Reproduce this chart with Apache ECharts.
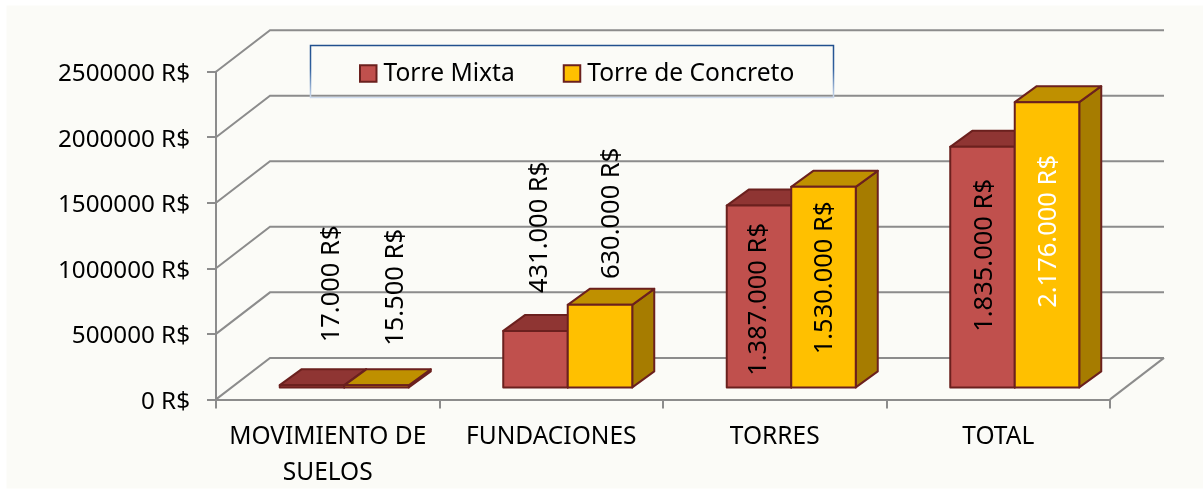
<!DOCTYPE html>
<html><head><meta charset="utf-8">
<style>html,body{margin:0;padding:0;background:#fff}#c{width:1203px;height:489px}</style>
<script src="https://cdn.jsdelivr.net/npm/echarts@6/dist/echarts.min.js"></script>
</head><body><div id="c"></div>
<script>
const categories = ['MOVIMIENTO DE\nSUELOS', 'FUNDACIONES', 'TORRES', 'TOTAL'];
const torreMixta = [17000, 431000, 1387000, 1835000];
const torreConcreto = [15500, 630000, 1530000, 2176000];
const yTicks = [0, 500000, 1000000, 1500000, 2000000, 2500000];

// layout of the hand-placed data labels (px, relative to the bar base centre)
const mixtaLabelShift = [[20, 103.5], [4, 160], [0, 88], [2, 132]];
const concretoLabelShift = [[19, 100], [12, 174], [1, 109.5], [2, 156]];
const FONT = '"Noto Sans"';
const BACK = [54, -41.5], FLOOR = [16.5, -12], DEPTH = [22, -16];
const GREY = '#8C8C8C', EDGE = '#6B201E';
const fmt = v => String(v).replace(/\B(?=(\d{3})+$)/g, '.') + ' R$';

function barGeom(params, api, side) {
  const cat = api.value(0), val = api.value(1);
  const band = api.size([1, 0])[0], w = band * 0.2886;
  const c = api.coord([cat, 0]), t = api.coord([cat, val]);
  const x0 = c[0] + (side < 0 ? -w : 0) + FLOOR[0], x1 = x0 + w;
  const yb = c[1] + FLOOR[1], yt = t[1] + FLOOR[1];
  return {x0, x1, yb, yt};
}
function barItem(side, front, top, right) {
  return function (params, api) {
    const g = barGeom(params, api, side);
    const [dx, dy] = DEPTH;
    const style = f => ({fill: f, stroke: EDGE, lineWidth: 2, lineJoin: 'round'});
    return {type: 'group', children: [
      {type: 'polygon', shape: {points: [[g.x1, g.yb], [g.x1 + dx, g.yb + dy], [g.x1 + dx, g.yt + dy], [g.x1, g.yt]]}, style: style(right)},
      {type: 'polygon', shape: {points: [[g.x0, g.yt], [g.x0 + dx, g.yt + dy], [g.x1 + dx, g.yt + dy], [g.x1, g.yt]]}, style: style(top)},
      {type: 'rect', shape: {x: g.x0, y: g.yt, width: g.x1 - g.x0, height: g.yb - g.yt}, style: style(front)}
    ]};
  };
}
function labelItem(side, shifts, colourOf) {
  return function (params, api) {
    const g = barGeom(params, api, side);
    const i = params.dataIndex, s = shifts[i];
    return {type: 'text', rotation: Math.PI / 2,
      x: (g.x0 + g.x1) / 2 + s[0], y: g.yb - s[1],
      style: {text: fmt(api.value(1)), font: '25.5px ' + FONT, fill: colourOf(i), align: 'center', verticalAlign: 'middle'}};
  };
}
const pairs = a => a.map((v, i) => [i, v]);

const option = {
  animation: false,
  backgroundColor: '#fff',
  textStyle: {fontFamily: FONT},
  grid: {left: 216, top: 71.7, width: 894, height: 327.7, outerBoundsMode: 'none', containLabel: false},
  xAxis: {type: 'category', data: categories,
    axisLine: {lineStyle: {color: GREY, width: 2}},
    axisTick: {show: true, length: 9, lineStyle: {color: GREY, width: 2}},
    axisLabel: {color: '#000', fontSize: 24.5, fontFamily: FONT, margin: 20, lineHeight: 36, interval: 0},
    splitLine: {show: false}},
  yAxis: {type: 'value', min: yTicks[0], max: yTicks[yTicks.length - 1], interval: 500000,
    axisLine: {show: true, lineStyle: {color: GREY, width: 2}},
    axisTick: {show: true, length: 9, lineStyle: {color: GREY, width: 2}},
    axisLabel: {color: '#000', fontSize: 24.2, fontFamily: FONT, margin: 26, verticalAlign: 'top', lineHeight: 5, formatter: v => v + ' R$'},
    splitLine: {show: false}},
  legend: {left: 359, top: 61, padding: 0, itemWidth: 16.5, itemHeight: 16.5, itemGap: 48,
    icon: 'rect', data: ['Torre Mixta', 'Torre de Concreto'],
    textStyle: {color: '#000', fontSize: 24.6, fontFamily: FONT, padding: [0, 0, 0, 2]}},
  graphic: [
    {type: 'rect', z: -10, silent: true, shape: {x: 6.5, y: 5.5, width: 1197, height: 483},
      style: {fill: '#FBFBF7'}},
    {type: 'rect', z: 50, silent: true, shape: {x: 310.5, y: 45.5, width: 523, height: 52},
      style: {fill: 'none', lineWidth: 1.5, stroke: new echarts.graphic.LinearGradient(0, 0, 0, 1, [
        {offset: 0, color: '#1F4E8C'}, {offset: 0.45, color: '#2F5F9E'}, {offset: 1, color: '#DCE6F5'}])}}
  ],
  series: [
    {type: 'custom', name: 'grid3d', z: 1, silent: true, data: yTicks.map(v => [0, v]),
      renderItem(params, api) {
        const cs = params.coordSys, v = api.value(1), y = api.coord([0, v])[1];
        const x0 = cs.x, x1 = cs.x + cs.width;
        const kids = [{type: 'polyline', shape: {points: [[x0, y], [x0 + BACK[0], y + BACK[1]], [x1 + BACK[0], y + BACK[1]]]},
          style: {fill: 'none', stroke: GREY, lineWidth: 2}}];
        if (v === 0) kids.push({type: 'line', shape: {x1: x1, y1: y, x2: x1 + BACK[0], y2: y + BACK[1]},
          style: {stroke: GREY, lineWidth: 2}});
        return {type: 'group', children: kids};
      }},
    {type: 'custom', name: 'Torre Mixta', z: 3, silent: true, data: pairs(torreMixta),
      itemStyle: {color: '#C0504D', borderColor: EDGE, borderWidth: 1.5},
      renderItem: barItem(-1, '#C0504D', '#8F3533', '#8F3533')},
    {type: 'custom', name: 'Torre de Concreto', z: 4, silent: true, data: pairs(torreConcreto),
      itemStyle: {color: '#FFC000', borderColor: EDGE, borderWidth: 1.5},
      renderItem: barItem(1, '#FFC000', '#BF9000', '#A67C00')},
    {type: 'custom', name: 'labelsMixta', z: 6, silent: true, data: pairs(torreMixta),
      renderItem: labelItem(-1, mixtaLabelShift, () => '#000')},
    {type: 'custom', name: 'labelsConcreto', z: 6, silent: true, data: pairs(torreConcreto),
      renderItem: labelItem(1, concretoLabelShift, i => i === 3 ? '#fff' : '#000')}
  ]
};
echarts.init(document.getElementById('c'), null, {renderer: 'canvas'}).setOption(option);
</script></body></html>
